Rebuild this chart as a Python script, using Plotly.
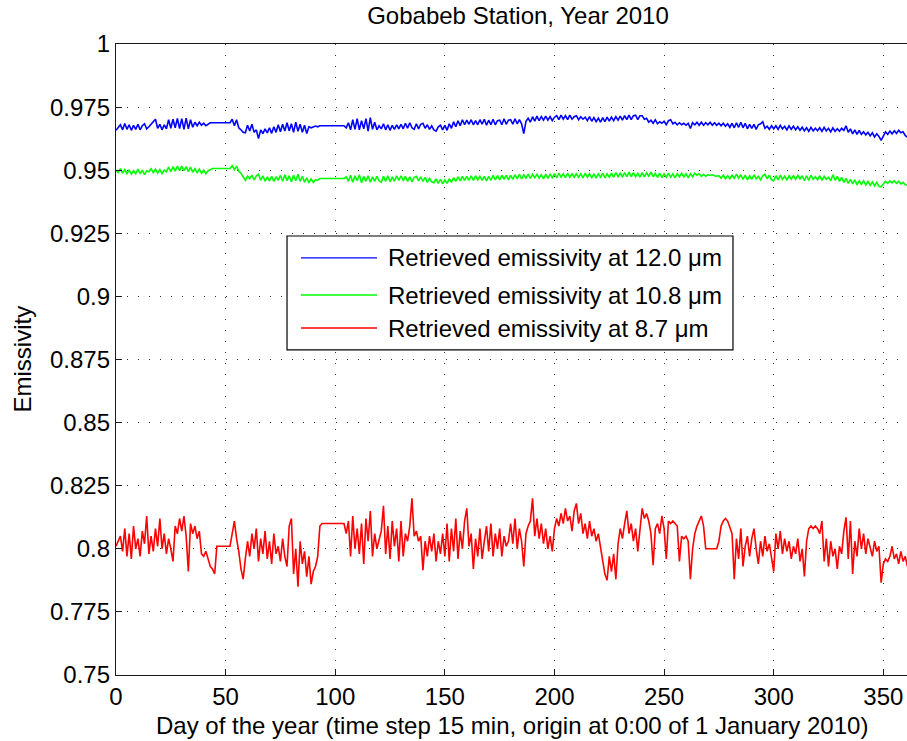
import plotly.graph_objects as go

# ---------------- data (daily readings, day 0 .. 361) ----------------
emis_12_0 = [
    0.9658, 0.9668, 0.9680, 0.9660, 0.9685, 0.9662, 0.9680, 0.9658, 0.9678, 0.9662,
    0.9682, 0.9660, 0.9676, 0.9684, 0.9664, 0.9672, 0.9682, 0.9690, 0.9702, 0.9666,
    0.9682, 0.9660, 0.9680, 0.9664, 0.9700, 0.9666, 0.9702, 0.9668, 0.9705, 0.9665,
    0.9704, 0.9662, 0.9706, 0.9664, 0.9700, 0.9670, 0.9690, 0.9676, 0.9690, 0.9678,
    0.9686, 0.9676, 0.9684, 0.9688, 0.9688, 0.9688, 0.9688, 0.9688, 0.9688, 0.9688,
    0.9688, 0.9688, 0.9688, 0.9702, 0.9676, 0.9700, 0.9668, 0.9660, 0.9650, 0.9648,
    0.9678, 0.9655, 0.9682, 0.9650, 0.9660, 0.9625, 0.9660, 0.9645, 0.9664, 0.9648,
    0.9668, 0.9646, 0.9672, 0.9650, 0.9680, 0.9652, 0.9682, 0.9655, 0.9688, 0.9656,
    0.9684, 0.9650, 0.9690, 0.9654, 0.9682, 0.9650, 0.9678, 0.9645, 0.9672, 0.9668,
    0.9670, 0.9675, 0.9672, 0.9676, 0.9676, 0.9676, 0.9676, 0.9676, 0.9676, 0.9676,
    0.9676, 0.9676, 0.9676, 0.9676, 0.9676, 0.9668, 0.9688, 0.9660, 0.9700, 0.9662,
    0.9704, 0.9660, 0.9696, 0.9664, 0.9704, 0.9655, 0.9708, 0.9662, 0.9690, 0.9660,
    0.9676, 0.9664, 0.9684, 0.9660, 0.9680, 0.9658, 0.9678, 0.9662, 0.9680, 0.9664,
    0.9682, 0.9664, 0.9686, 0.9666, 0.9688, 0.9668, 0.9662, 0.9684, 0.9664, 0.9682,
    0.9686, 0.9666, 0.9680, 0.9662, 0.9676, 0.9660, 0.9655, 0.9672, 0.9678, 0.9660,
    0.9678, 0.9658, 0.9684, 0.9666, 0.9692, 0.9672, 0.9696, 0.9676, 0.9700, 0.9680,
    0.9698, 0.9682, 0.9700, 0.9680, 0.9696, 0.9680, 0.9700, 0.9682, 0.9702, 0.9678,
    0.9698, 0.9680, 0.9702, 0.9680, 0.9696, 0.9698, 0.9680, 0.9704, 0.9682, 0.9698,
    0.9700, 0.9682, 0.9704, 0.9684, 0.9700, 0.9684, 0.9645, 0.9694, 0.9706, 0.9690,
    0.9712, 0.9694, 0.9714, 0.9696, 0.9712, 0.9698, 0.9714, 0.9698, 0.9712, 0.9696,
    0.9710, 0.9716, 0.9700, 0.9718, 0.9702, 0.9716, 0.9700, 0.9718, 0.9702, 0.9712,
    0.9716, 0.9700, 0.9712, 0.9702, 0.9710, 0.9696, 0.9712, 0.9694, 0.9708, 0.9692,
    0.9706, 0.9690, 0.9708, 0.9692, 0.9710, 0.9694, 0.9710, 0.9696, 0.9712, 0.9698,
    0.9714, 0.9698, 0.9716, 0.9700, 0.9718, 0.9700, 0.9716, 0.9718, 0.9700, 0.9716,
    0.9716, 0.9702, 0.9706, 0.9690, 0.9698, 0.9686, 0.9700, 0.9684, 0.9692, 0.9686,
    0.9694, 0.9680, 0.9696, 0.9700, 0.9684, 0.9690, 0.9680, 0.9688, 0.9680, 0.9686,
    0.9678, 0.9686, 0.9665, 0.9688, 0.9680, 0.9690, 0.9678, 0.9690, 0.9678, 0.9688,
    0.9680, 0.9690, 0.9678, 0.9688, 0.9678, 0.9686, 0.9676, 0.9686, 0.9674, 0.9684,
    0.9670, 0.9686, 0.9668, 0.9688, 0.9670, 0.9690, 0.9668, 0.9686, 0.9664, 0.9682,
    0.9666, 0.9682, 0.9662, 0.9680, 0.9684, 0.9692, 0.9666, 0.9674, 0.9662, 0.9676,
    0.9664, 0.9676, 0.9662, 0.9678, 0.9664, 0.9674, 0.9660, 0.9676, 0.9662, 0.9674,
    0.9660, 0.9672, 0.9658, 0.9670, 0.9656, 0.9668, 0.9654, 0.9670, 0.9656, 0.9666,
    0.9656, 0.9668, 0.9654, 0.9670, 0.9656, 0.9666, 0.9652, 0.9668, 0.9654, 0.9664,
    0.9654, 0.9666, 0.9658, 0.9676, 0.9650, 0.9664, 0.9644, 0.9660, 0.9642, 0.9658,
    0.9642, 0.9652, 0.9640, 0.9650, 0.9636, 0.9648, 0.9632, 0.9644, 0.9634, 0.9618,
    0.9636, 0.9652, 0.9642, 0.9655, 0.9644, 0.9656, 0.9646, 0.9658, 0.9648, 0.9652,
    0.9638, 0.9630,
]

emis_10_8 = [
    0.9500, 0.9490, 0.9506, 0.9488, 0.9502, 0.9486, 0.9500, 0.9484, 0.9498, 0.9486,
    0.9504, 0.9486, 0.9500, 0.9482, 0.9498, 0.9494, 0.9506, 0.9490, 0.9504, 0.9488,
    0.9502, 0.9486, 0.9500, 0.9494, 0.9512, 0.9494, 0.9514, 0.9496, 0.9516, 0.9498,
    0.9516, 0.9498, 0.9514, 0.9494, 0.9512, 0.9492, 0.9506, 0.9490, 0.9504, 0.9488,
    0.9500, 0.9486, 0.9498, 0.9502, 0.9507, 0.9507, 0.9507, 0.9507, 0.9507, 0.9507,
    0.9507, 0.9507, 0.9507, 0.9518, 0.9502, 0.9516, 0.9496, 0.9488, 0.9472, 0.9460,
    0.9476, 0.9466, 0.9480, 0.9462, 0.9478, 0.9484, 0.9460, 0.9478, 0.9456, 0.9474,
    0.9458, 0.9476, 0.9456, 0.9474, 0.9460, 0.9480, 0.9456, 0.9482, 0.9458, 0.9478,
    0.9454, 0.9480, 0.9458, 0.9484, 0.9456, 0.9476, 0.9452, 0.9470, 0.9450, 0.9466,
    0.9452, 0.9462, 0.9460, 0.9467, 0.9467, 0.9467, 0.9467, 0.9467, 0.9467, 0.9467,
    0.9467, 0.9467, 0.9467, 0.9467, 0.9467, 0.9474, 0.9456, 0.9480, 0.9452, 0.9478,
    0.9458, 0.9482, 0.9450, 0.9476, 0.9456, 0.9478, 0.9452, 0.9474, 0.9456, 0.9476,
    0.9458, 0.9452, 0.9476, 0.9456, 0.9478, 0.9454, 0.9474, 0.9456, 0.9478, 0.9460,
    0.9478, 0.9458, 0.9476, 0.9456, 0.9474, 0.9454, 0.9472, 0.9476, 0.9458, 0.9474,
    0.9456, 0.9472, 0.9452, 0.9468, 0.9454, 0.9450, 0.9466, 0.9448, 0.9464, 0.9446,
    0.9462, 0.9448, 0.9466, 0.9452, 0.9470, 0.9456, 0.9474, 0.9458, 0.9476, 0.9460,
    0.9476, 0.9460, 0.9478, 0.9460, 0.9478, 0.9462, 0.9476, 0.9460, 0.9476, 0.9458,
    0.9476, 0.9460, 0.9480, 0.9462, 0.9478, 0.9462, 0.9480, 0.9464, 0.9480, 0.9462,
    0.9480, 0.9464, 0.9482, 0.9466, 0.9484, 0.9466, 0.9482, 0.9468, 0.9484, 0.9468,
    0.9484, 0.9470, 0.9484, 0.9468, 0.9482, 0.9466, 0.9484, 0.9468, 0.9484, 0.9470,
    0.9486, 0.9470, 0.9488, 0.9472, 0.9486, 0.9470, 0.9488, 0.9472, 0.9486, 0.9472,
    0.9486, 0.9472, 0.9486, 0.9470, 0.9488, 0.9472, 0.9486, 0.9470, 0.9484, 0.9470,
    0.9486, 0.9472, 0.9488, 0.9470, 0.9486, 0.9472, 0.9488, 0.9472, 0.9490, 0.9474,
    0.9488, 0.9474, 0.9490, 0.9474, 0.9492, 0.9474, 0.9490, 0.9474, 0.9488, 0.9472,
    0.9490, 0.9474, 0.9490, 0.9476, 0.9492, 0.9474, 0.9488, 0.9472, 0.9488, 0.9470,
    0.9486, 0.9472, 0.9488, 0.9472, 0.9486, 0.9470, 0.9486, 0.9474, 0.9488, 0.9474,
    0.9486, 0.9470, 0.9486, 0.9474, 0.9488, 0.9480, 0.9486, 0.9476, 0.9484, 0.9476,
    0.9482, 0.9480, 0.9482, 0.9478, 0.9476, 0.9478, 0.9468, 0.9480, 0.9466, 0.9478,
    0.9466, 0.9480, 0.9468, 0.9484, 0.9468, 0.9482, 0.9464, 0.9480, 0.9462, 0.9478,
    0.9464, 0.9482, 0.9466, 0.9476, 0.9462, 0.9478, 0.9484, 0.9466, 0.9480, 0.9462,
    0.9458, 0.9478, 0.9462, 0.9480, 0.9464, 0.9476, 0.9462, 0.9478, 0.9464, 0.9478,
    0.9464, 0.9480, 0.9466, 0.9478, 0.9458, 0.9478, 0.9460, 0.9480, 0.9464, 0.9474,
    0.9462, 0.9478, 0.9460, 0.9476, 0.9464, 0.9472, 0.9458, 0.9482, 0.9460, 0.9476,
    0.9456, 0.9472, 0.9452, 0.9468, 0.9448, 0.9464, 0.9446, 0.9462, 0.9442, 0.9458,
    0.9444, 0.9458, 0.9442, 0.9456, 0.9440, 0.9454, 0.9438, 0.9452, 0.9436, 0.9434,
    0.9444, 0.9456, 0.9448, 0.9458, 0.9450, 0.9458, 0.9448, 0.9456, 0.9446, 0.9452,
    0.9442, 0.9440,
]

emis_8_7 = [
    0.801, 0.803, 0.805, 0.799, 0.808, 0.797, 0.806, 0.796, 0.809, 0.800,
    0.804, 0.797, 0.807, 0.802, 0.813, 0.798, 0.805, 0.799, 0.808, 0.801,
    0.812, 0.800, 0.806, 0.798, 0.804, 0.800, 0.795, 0.809, 0.806, 0.812,
    0.807, 0.813, 0.805, 0.791, 0.810, 0.806, 0.809, 0.804, 0.807, 0.798,
    0.797, 0.799, 0.796, 0.793, 0.792, 0.790, 0.801, 0.801, 0.801, 0.801,
    0.801, 0.801, 0.801, 0.806, 0.811, 0.804, 0.799, 0.792, 0.788, 0.796,
    0.803, 0.797, 0.806, 0.800, 0.808, 0.795, 0.804, 0.798, 0.807, 0.796,
    0.803, 0.794, 0.806, 0.798, 0.801, 0.795, 0.804, 0.797, 0.793, 0.809,
    0.812, 0.790, 0.800, 0.785, 0.803, 0.794, 0.799, 0.789, 0.797, 0.786,
    0.791, 0.793, 0.797, 0.809, 0.810, 0.810, 0.810, 0.810, 0.810, 0.810,
    0.810, 0.810, 0.810, 0.810, 0.810, 0.806, 0.811, 0.797, 0.813, 0.800,
    0.808, 0.798, 0.810, 0.794, 0.812, 0.803, 0.815, 0.797, 0.806, 0.800,
    0.804, 0.807, 0.817, 0.798, 0.809, 0.796, 0.811, 0.801, 0.808, 0.795,
    0.811, 0.797, 0.806, 0.803, 0.809, 0.820, 0.805, 0.807, 0.803, 0.805,
    0.7915, 0.803, 0.797, 0.805, 0.799, 0.806, 0.795, 0.803, 0.798, 0.806,
    0.797, 0.810, 0.795, 0.808, 0.799, 0.812, 0.796, 0.807, 0.800, 0.811,
    0.816, 0.801, 0.806, 0.792, 0.804, 0.797, 0.808, 0.796, 0.803, 0.809,
    0.799, 0.810, 0.797, 0.806, 0.800, 0.808, 0.797, 0.805, 0.801, 0.803,
    0.810, 0.802, 0.812, 0.800, 0.808, 0.803, 0.793, 0.806, 0.809, 0.811,
    0.820, 0.805, 0.812, 0.804, 0.810, 0.802, 0.808, 0.800, 0.805, 0.799,
    0.808, 0.812, 0.809, 0.814, 0.810, 0.816, 0.811, 0.813, 0.807, 0.815,
    0.818, 0.810, 0.814, 0.806, 0.810, 0.804, 0.811, 0.805, 0.808, 0.803,
    0.806, 0.801, 0.795, 0.790, 0.7875, 0.797, 0.791, 0.798, 0.788, 0.802,
    0.808, 0.804, 0.810, 0.815, 0.806, 0.810, 0.803, 0.808, 0.799, 0.809,
    0.816, 0.812, 0.814, 0.811, 0.806, 0.7935, 0.808, 0.810, 0.806, 0.813,
    0.808, 0.796, 0.811, 0.810, 0.811, 0.810, 0.809, 0.795, 0.805, 0.804,
    0.805, 0.803, 0.788, 0.800, 0.806, 0.809, 0.811, 0.813, 0.809, 0.800,
    0.800, 0.800, 0.800, 0.800, 0.800, 0.803, 0.809, 0.811, 0.812, 0.811,
    0.808, 0.806, 0.788, 0.804, 0.796, 0.808, 0.793, 0.801, 0.805, 0.797,
    0.804, 0.808, 0.800, 0.794, 0.803, 0.797, 0.805, 0.799, 0.802, 0.796,
    0.791, 0.806, 0.800, 0.807, 0.798, 0.804, 0.799, 0.803, 0.796, 0.801,
    0.798, 0.804, 0.795, 0.800, 0.789, 0.803, 0.808, 0.809, 0.808, 0.809,
    0.808, 0.806, 0.811, 0.795, 0.804, 0.793, 0.803, 0.797, 0.800, 0.792,
    0.801, 0.798, 0.807, 0.8125, 0.796, 0.811, 0.790, 0.803, 0.797, 0.808,
    0.800, 0.806, 0.798, 0.804, 0.801, 0.797, 0.803, 0.799, 0.801, 0.7866,
    0.794, 0.796, 0.795, 0.797, 0.801, 0.796, 0.798, 0.794, 0.799, 0.795,
    0.797, 0.793,
]

series_names = [
    "Retrieved emissivity at 12.0 μm",
    "Retrieved emissivity at 10.8 μm",
    "Retrieved emissivity at 8.7 μm",
]
series_values = [emis_12_0, emis_10_8, emis_8_7]
series_colors = ["#0000ff", "#00ff00", "#ff0000"]

x_ticks = [0, 50, 100, 150, 200, 250, 300, 350]
y_ticks = [0.75, 0.775, 0.8, 0.825, 0.85, 0.875, 0.9, 0.925, 0.95, 0.975, 1.0]
y_tick_text = ["0.75", "0.775", "0.8", "0.825", "0.85", "0.875", "0.9",
               "0.925", "0.95", "0.975", "1"]

FONT = "Liberation Sans, Arial, Helvetica, sans-serif"
FS = 24

fig = go.Figure()
for name, vals, col in zip(series_names, series_values, series_colors):
    fig.add_trace(go.Scatter(
        x=list(range(len(vals))), y=vals, mode="lines", name=name,
        line=dict(color=col, width=1.6), showlegend=False,
    ))

axis_common = dict(
    showline=True, linecolor="#1a1a1a", linewidth=1.3,
    ticks="inside", ticklen=6, tickcolor="#1a1a1a", tickwidth=1,
    showgrid=True, gridcolor="#333333", gridwidth=1, griddash="1px,10px",
    zeroline=False, tickfont=dict(family=FONT, size=FS, color="black"),
)

fig.update_xaxes(range=[0, 360.8], tickvals=x_ticks, mirror=True, **axis_common)
fig.update_yaxes(range=[0.75, 1.0], tickvals=y_ticks, ticktext=y_tick_text,
                 mirror=False, **axis_common)

# Manual legend box (MATLAB-style, long line samples)
lx0, lx1, ly0, ly1 = 0.2162, 0.780, 0.5151, 0.6957
shapes = [dict(type="rect", xref="paper", yref="paper", x0=lx0, x1=lx1, y0=ly0, y1=ly1,
               line=dict(color="black", width=1.2), fillcolor="white", layer="above")]
annotations = []
row_y = [0.6609, 0.6022, 0.5499]
for name, col, ry in zip(series_names, series_colors, row_y):
    shapes.append(dict(type="line", xref="paper", yref="paper", x0=0.2339, x1=0.3300,
                       y0=ry, y1=ry, line=dict(color=col, width=1.3), layer="above"))
    annotations.append(dict(xref="paper", yref="paper", x=0.3413, y=ry, text=name,
                            showarrow=False, xanchor="left", yanchor="middle",
                            font=dict(family=FONT, size=FS, color="black")))

annotations.append(dict(xref="paper", yref="paper", x=-0.1188, y=0.5, text="Emissivity",
                        textangle=-90, showarrow=False, xanchor="center", yanchor="middle",
                        font=dict(family=FONT, size=FS, color="black")))
annotations.append(dict(xref="paper", yref="paper", x=0.5, y=-0.0808,
                        text="Day of the year (time step 15 min, origin at 0:00 of 1 January 2010)",
                        showarrow=False, xanchor="center", yanchor="middle",
                        font=dict(family=FONT, size=FS, color="black")))

fig.update_layout(
    width=907, height=741,
    margin=dict(l=116, r=0, t=44, b=66),
    paper_bgcolor="white", plot_bgcolor="white",
    title=dict(text="Gobabeb Station, Year 2010", xref="container", yref="container",
               x=518 / 907, y=1 - 16 / 741, xanchor="center", yanchor="middle",
               font=dict(family=FONT, size=FS, color="black")),
    shapes=shapes, annotations=annotations,
    showlegend=False,
)

fig.write_html("out.html")
